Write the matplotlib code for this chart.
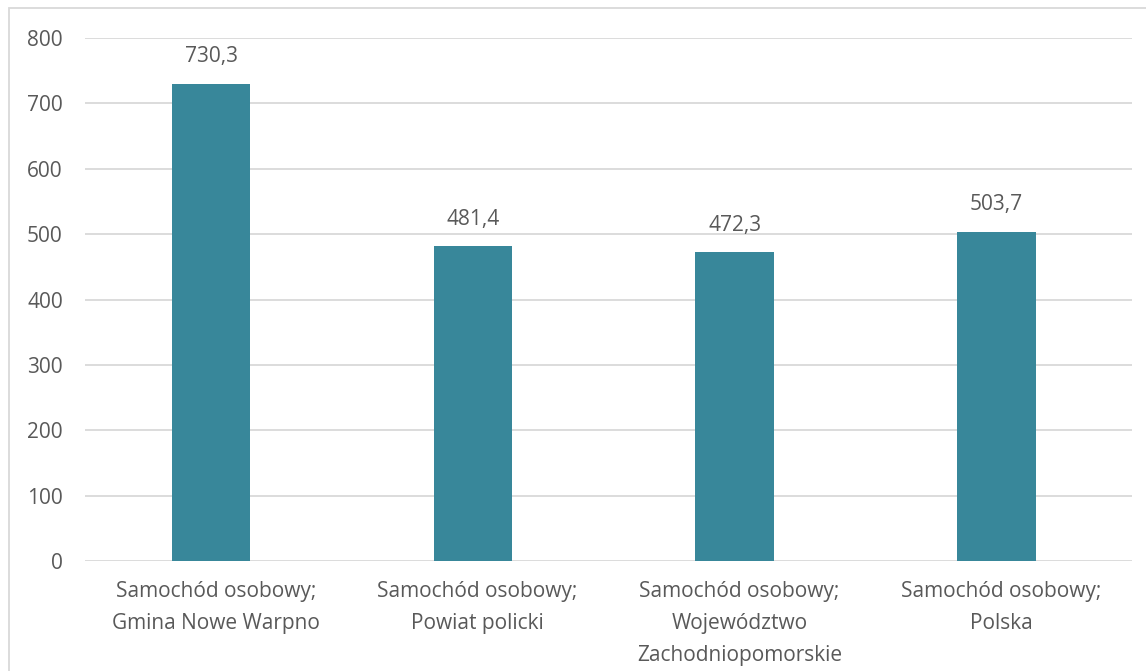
import matplotlib.pyplot as plt
from matplotlib.patches import Rectangle

categories = [
    "Samochód osobowy;\nGmina Nowe Warpno",
    "Samochód osobowy;\nPowiat policki",
    "Samochód osobowy;\nWojewództwo\nZachodniopomorskie",
    "Samochód osobowy;\nPolska",
]
values = [730.3, 481.4, 472.3, 503.7]
yticks = [0, 100, 200, 300, 400, 500, 600, 700, 800]

BAR = "#38879A"
TXT = "#595959"
GRID = "#D9D9D9"

plt.rcParams['font.family'] = ['Open Sans', 'DejaVu Sans']

fig = plt.figure(figsize=(11.46, 6.71), dpi=100)
ax = fig.add_axes([85 / 1146, 1 - 561 / 671, 1047 / 1146, 523 / 671])

x = list(range(len(values)))
shift = -0.018  # bars sit slightly left of the category centre
bx = [xi + shift for xi in x]
ax.bar(bx, values, width=0.30, color=BAR, zorder=3)
for xi, v in zip(bx, values):
    ax.annotate(f"{v:.1f}".replace(".", ","), (xi, v), xytext=(0, 19.5),
                textcoords="offset points", ha="center", va="center",
                fontsize=15, color=TXT)

ax.set_xlim(-0.5, len(values) - 0.5)
ax.set_ylim(0, 800)
ax.set_yticks(yticks)
ax.set_xticks(x)
ax.set_xticklabels(categories, fontsize=15, color=TXT, linespacing=1.68)
ax.tick_params(axis="y", labelsize=15, labelcolor=TXT, length=0, pad=16)
ax.tick_params(axis="x", length=0, pad=14.5)
ax.yaxis.grid(True, color=GRID, linewidth=1.3, zorder=0)
for s in ax.spines.values():
    s.set_visible(False)

# chart outline (cut off at right and bottom)
fig.patches.append(Rectangle((9 / 1146, -0.1), 1.2, 1 - 8 / 671 + 0.1,
                             transform=fig.transFigure, fill=False,
                             edgecolor=GRID, linewidth=1.3))

fig.savefig("out.png", dpi=100)
